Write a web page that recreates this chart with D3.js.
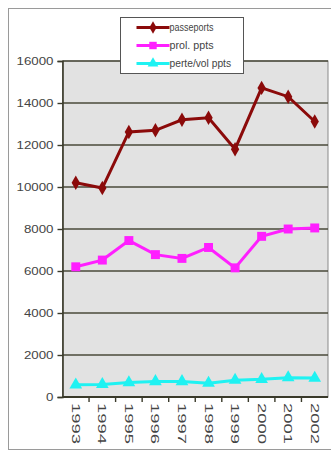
<!DOCTYPE html>
<html>
<head>
<meta charset="utf-8">
<script src="https://cdn.jsdelivr.net/npm/d3@7"></script>
<style>
  html, body { margin: 0; padding: 0; background: #ffffff; }
  svg { display: block; }
</style>
</head>
<body>
<svg id="chart" width="331" height="452"></svg>
<script>
// Yearly counts: issued passports, extensions and loss/theft reports
const years = ["1993", "1994", "1995", "1996", "1997", "1998", "1999", "2000", "2001", "2002"];
const passports = [10200, 9950, 12620, 12700, 13200, 13300, 11800, 14720, 14300, 13120];
const prolPpts = [6200, 6520, 7450, 6780, 6600, 7120, 6150, 7650, 8000, 8050];
const perteVolPpts = [580, 600, 690, 740, 740, 660, 800, 840, 920, 900];
const yTicks = [0, 2000, 4000, 6000, 8000, 10000, 12000, 14000, 16000];

const seriesList = [
  { name: "passeports", values: passports, color: "#8b0a0a", marker: "diamond" },
  { name: "prol. ppts", values: prolPpts, color: "#ff1fff", marker: "square" },
  { name: "perte/vol ppts", values: perteVolPpts, color: "#1ff2f2", marker: "triangle" }
];

const svg = d3.select("#chart");

// outer chart frame
svg.append("rect")
  .attr("x", 8.5).attr("y", 8.5)
  .attr("width", 340).attr("height", 441)
  .attr("fill", "#ffffff").attr("stroke", "#9a9a9a").attr("stroke-width", 1);

const plot = { left: 62.5, right: 328, top: 61, bottom: 397 };

const x = d3.scaleBand().domain(years).range([plot.left, plot.right]);
const y = d3.scaleLinear().domain([0, 16000]).range([plot.bottom, plot.top]);

// plot area
svg.append("rect")
  .attr("x", plot.left).attr("y", plot.top)
  .attr("width", plot.right - plot.left).attr("height", plot.bottom - plot.top)
  .attr("fill", "#e2e2e2").attr("stroke", "#8a8a8a").attr("stroke-width", 1);

// horizontal gridlines
svg.append("g")
  .selectAll("line")
  .data(yTicks.filter(t => t > 0))
  .join("line")
  .attr("x1", plot.left).attr("x2", plot.right)
  .attr("y1", d => y(d)).attr("y2", d => y(d))
  .attr("stroke", "#4a4a3a").attr("stroke-width", 1.6);

// y axis
const yAxis = svg.append("g")
  .attr("transform", `translate(${plot.left},0)`)
  .call(d3.axisLeft(y).tickValues(yTicks).tickSize(5).tickPadding(4).tickFormat(d3.format("d")));
yAxis.select(".domain").attr("stroke", "#3a3a2a").attr("stroke-width", 1.6);
yAxis.selectAll(".tick line").attr("stroke", "#3a3a2a").attr("stroke-width", 1.4);
yAxis.selectAll(".tick text")
  .attr("font-family", "Liberation Sans, Arial, sans-serif")
  .attr("font-size", 11.5).attr("fill", "#444444")
  .attr("textLength", d => String(d).length * 7.4)
  .attr("lengthAdjust", "spacingAndGlyphs");

// x axis with ticks between categories
const xAxisG = svg.append("g").attr("transform", `translate(0,${plot.bottom})`);
xAxisG.append("line")
  .attr("x1", plot.left).attr("x2", plot.right)
  .attr("stroke", "#3a3a2a").attr("stroke-width", 1.8);
xAxisG.selectAll(".sep")
  .data(years.slice(1))
  .join("line")
  .attr("class", "sep")
  .attr("x1", d => x(d)).attr("x2", d => x(d))
  .attr("y1", 0).attr("y2", 5)
  .attr("stroke", "#3a3a2a").attr("stroke-width", 1.4);
xAxisG.selectAll(".lbl")
  .data(years)
  .join("text")
  .attr("class", "lbl")
  .attr("transform", d => `translate(${x(d) + x.bandwidth() / 2 - 4},${6}) rotate(90)`)
  .attr("font-family", "Liberation Sans, Arial, sans-serif")
  .attr("font-size", 11.5).attr("fill", "#444444")
  .attr("textLength", 41).attr("lengthAdjust", "spacingAndGlyphs")
  .text(d => d);

// marker shapes
const symbolFor = {
  diamond: d3.symbol().type(d3.symbolDiamond).size(60),
  square: d3.symbol().type(d3.symbolSquare).size(80),
  triangle: d3.symbol().type(d3.symbolTriangle).size(70)
};

const line = d3.line()
  .x((d, i) => x(years[i]) + x.bandwidth() / 2)
  .y(d => y(d));

seriesList.forEach(s => {
  const g = svg.append("g");
  g.append("path")
    .datum(s.values)
    .attr("d", line)
    .attr("fill", "none")
    .attr("stroke", s.color)
    .attr("stroke-width", 3);
  g.selectAll("path.mk")
    .data(s.values)
    .join("path")
    .attr("class", "mk")
    .attr("transform", (d, i) => `translate(${x(years[i]) + x.bandwidth() / 2},${y(d)})`)
    .attr("d", symbolFor[s.marker]())
    .attr("fill", s.color);
});

// legend
const legend = svg.append("g").attr("transform", "translate(120.5,17.5)");
legend.append("rect")
  .attr("width", 123).attr("height", 56)
  .attr("fill", "#ffffff").attr("stroke", "#555555").attr("stroke-width", 1);
const legSymbol = {
  diamond: d3.symbol().type(d3.symbolDiamond).size(45),
  square: d3.symbol().type(d3.symbolSquare).size(55),
  triangle: d3.symbol().type(d3.symbolTriangle).size(50)
};
seriesList.forEach((s, i) => {
  const row = legend.append("g").attr("transform", `translate(0,${10 + i * 18})`);
  row.append("line")
    .attr("x1", 16).attr("x2", 49)
    .attr("stroke", s.color).attr("stroke-width", 3);
  row.append("path")
    .attr("transform", "translate(32.5,0)")
    .attr("d", legSymbol[s.marker]())
    .attr("fill", s.color);
  row.append("text")
    .attr("x", 49).attr("y", 3.5)
    .attr("font-family", "Liberation Sans, Arial, sans-serif")
    .attr("font-size", 10).attr("fill", "#444444")
    .attr("textLength", s.name.length * 4.4)
    .attr("lengthAdjust", "spacingAndGlyphs")
    .text(s.name);
});
</script>
</body>
</html>
